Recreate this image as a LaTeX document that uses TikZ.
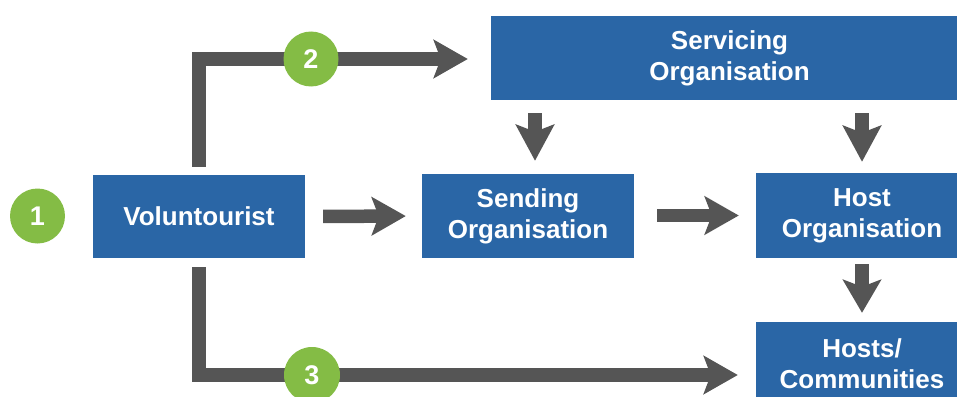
\documentclass[tikz,border=0pt]{standalone}
\usepackage{fontspec}
\setmainfont{Liberation Sans}
\usetikzlibrary{arrows.meta}
\definecolor{boxblue}{HTML}{2A66A6}
\definecolor{arrowgray}{HTML}{555555}
\definecolor{numgreen}{HTML}{84BC45}
\tikzset{
  bluebox/.style={fill=boxblue, draw=none, text=white, align=center,
    font=\fontsize{26}{31}\selectfont\bfseries, inner sep=0pt},
  numc/.style={circle, fill=numgreen, draw=none, text=white, minimum size=55pt,
    inner sep=0pt, font=\fontsize{27}{30}\selectfont\bfseries},
  flowarrow/.style={draw=arrowgray, line width=13.5pt, line cap=butt, line join=miter,
    -{Stealth[length=34pt, width=38pt, inset=7pt]}},
  downarrow/.style={draw=arrowgray, line width=14pt, line cap=butt,
    -{Stealth[length=36pt, width=38pt, inset=7pt]}}
}
\begin{document}
\begin{tikzpicture}[x=1pt,y=-1pt]
\useasboundingbox (0,0) rectangle (957,396);
\clip (0,0) rectangle (957,396);
\node[bluebox, minimum width=212pt, minimum height=83pt] (vol) at (199,216.5) {Voluntourist};
\node[bluebox, minimum width=212pt, minimum height=84pt] (send) at (528,216) {Sending\\Organisation};
\node[bluebox, minimum width=477pt, minimum height=84pt] (serv) at (729.5,58) {Servicing\\Organisation};
\node[bluebox, minimum width=212pt, minimum height=85pt] (host) at (862,215.5) {Host\\Organisation};
\node[bluebox, minimum width=212pt, minimum height=84pt] (hosts) at (862,364) {Hosts/\\Communities};
\coordinate (p1) at (37.5,216);
\coordinate (p2) at (311,59);
\coordinate (p3) at (312,375);
% horizontal arrows
\draw[flowarrow, shorten <=18pt, shorten >=16pt] (vol.east) -- (send.west);
\draw[flowarrow, shorten <=23pt, shorten >=17pt] (send.east |- host.west) -- (host.west);
% path 2
\draw[flowarrow, shorten <=8pt, shorten >=23pt] (vol.north) |- (serv.west |- p2);
% path 3
\draw[flowarrow, shorten <=9pt, shorten >=18pt] (vol.south) |- (hosts.west |- p3);
% down arrows
\draw[downarrow, shorten <=13pt, shorten >=13pt] ([xshift=7pt]send.north |- serv.south) -- ([xshift=7pt]send.north);
\draw[downarrow, shorten <=13pt, shorten >=11pt] (host.north |- serv.south) -- (host.north);
\draw[draw=arrowgray, line width=13.5pt, line cap=butt,
  -{Stealth[length=33pt, width=38pt, inset=7pt]}, shorten <=6pt, shorten >=9pt] (host.south) -- (hosts.north);
% numbers
\node[numc] (c1) at (p1) {1};
\node[numc] (c2) at (p2) {2};
\node[numc, minimum size=56pt] (c3) at (p3) {3};
\end{tikzpicture}
\end{document}
